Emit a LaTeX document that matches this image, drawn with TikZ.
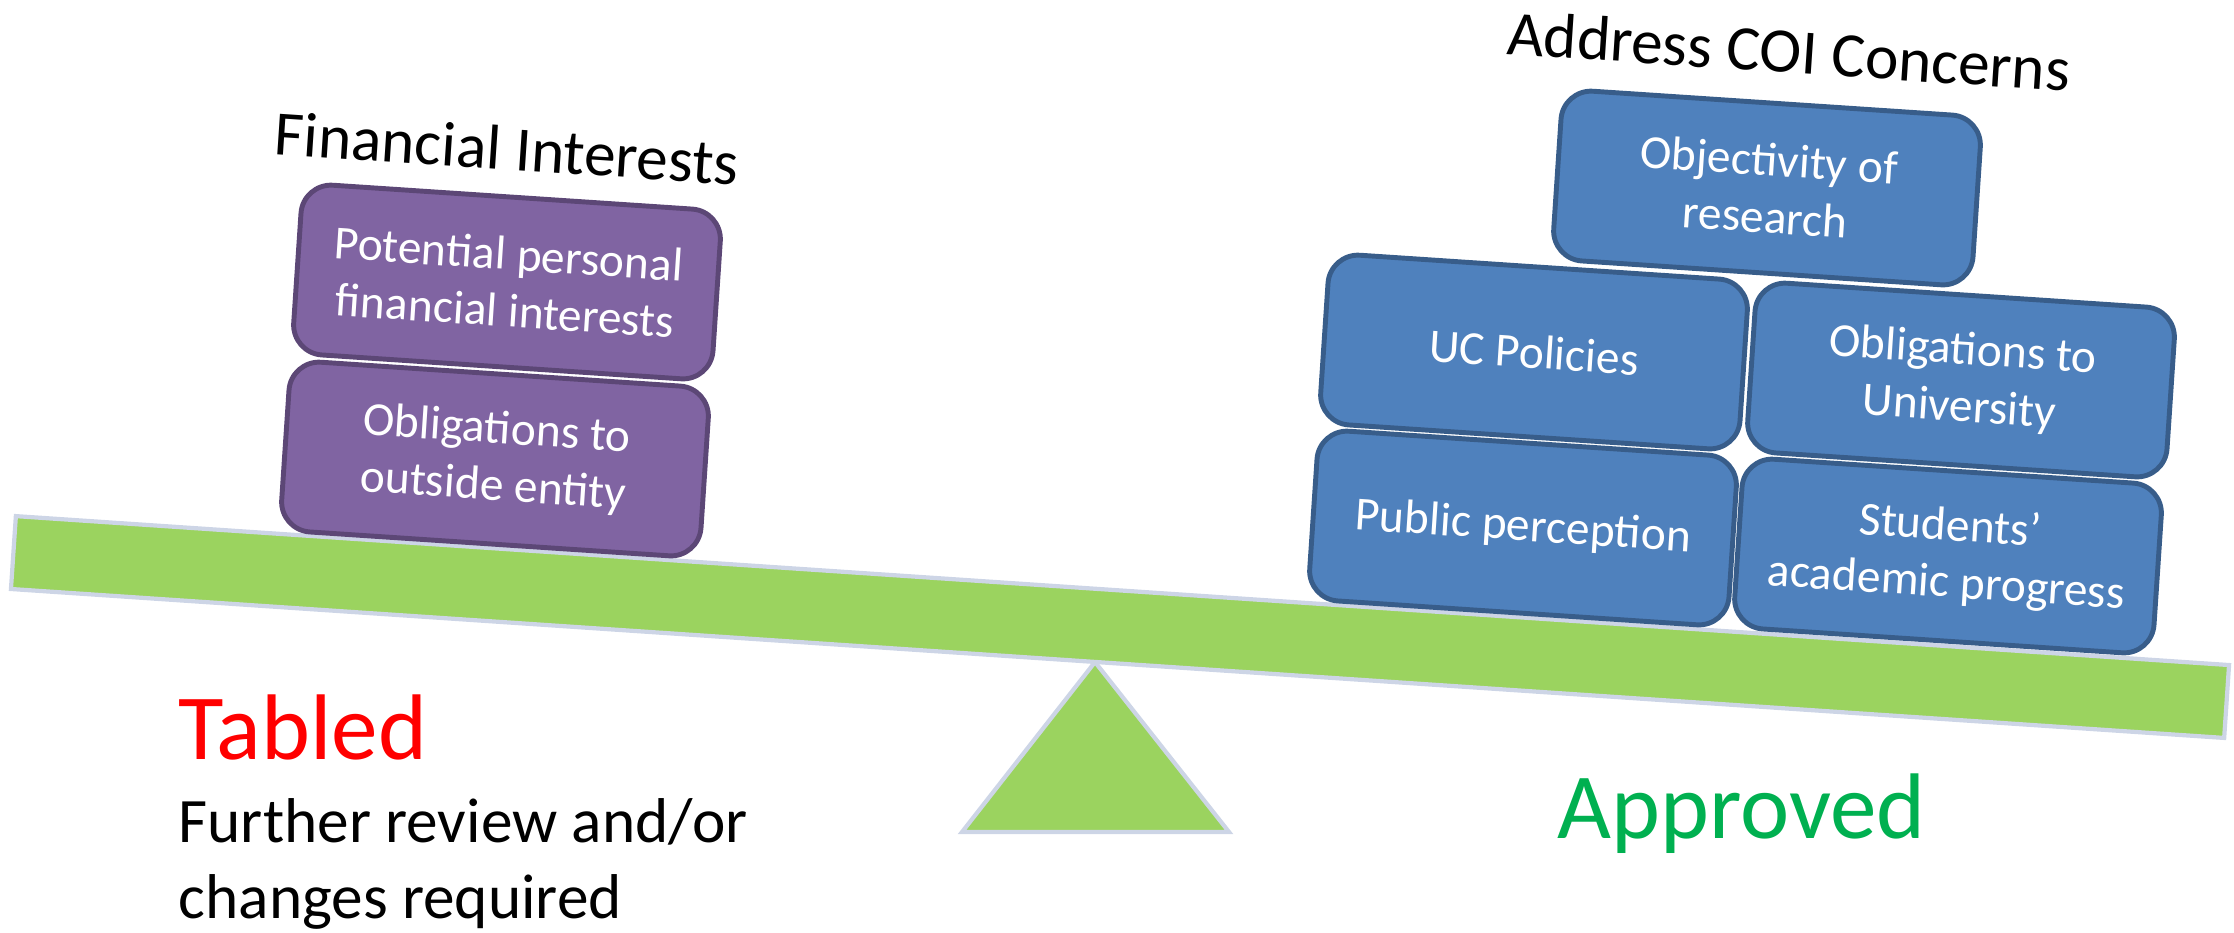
\documentclass[tikz,border=0pt]{standalone}
\usepackage{fontspec}
\setmainfont{Carlito}
\usetikzlibrary{positioning}
\definecolor{boxpurple}{HTML}{8064A2}
\definecolor{edgepurple}{HTML}{5C4776}
\definecolor{boxblue}{HTML}{4F81BD}
\definecolor{edgeblue}{HTML}{385D8A}
\definecolor{beamgreen}{HTML}{9BD35F}
\definecolor{beamedge}{HTML}{CDD5E6}
\definecolor{okgreen}{HTML}{00B050}

\begin{document}
\begin{tikzpicture}[x=0.01cm, y=-0.01cm,
        block/.style={rounded corners=0.3cm, line width=1.4pt, minimum width=4.2cm, minimum height=1.7cm,
            align=center, text=white, rotate=-3.8, font=\fontsize{13.5}{16.2}\selectfont},
        fin/.style={block, fill=boxpurple, draw=edgepurple},
        coi/.style={block, fill=boxblue, draw=edgeblue},
        heading/.style={rotate=-3.8, inner sep=0pt, font=\fontsize{18}{21.6}\selectfont},
        verdict/.style={anchor=base west, inner sep=0pt, font=\fontsize{26.5}{31}\selectfont},
        remark/.style={anchor=base west, inner sep=0pt, align=left, font=\fontsize{18}{21.6}\selectfont}]
        \useasboundingbox (0,0) rectangle (2234,932);

        \coordinate (tip) at (1095,662);
        \draw[draw=beamedge, line width=1.2pt, fill=beamgreen] (tip) -- (1229,832) -- (962,832) -- cycle;
        \node (beam) at (1120,627)[rotate=-3.85, minimum width=22.17cm, minimum height=0.73cm,
            draw=beamedge, line width=1.2pt, fill=beamgreen] {};

        \node (0) at (507,282)[fin] {Potential personal\\financial interests};
        \node (1) at (495,459)[fin] {Obligations to\\outside entity};
        \node (fi) at (507,148)[heading] {Financial Interests};

        \node (2) at (1767,188)[coi] {Objectivity of\\research};
        \node (3) at (1534,352)[coi] {UC Policies};
        \node (4) at (1961,380)[coi] {Obligations to\\University};
        \node (5) at (1523,528)[coi] {Public perception};
        \node (6) at (1948,556)[coi] {Students'\\academic progress};
        \node (coi) at (1789,51)[heading] {Address COI Concerns};

        \node (tabled) at (178,759)[verdict, text=red] {Tabled};
        \node (review) at (178,918)[remark] {Further review and/or\\changes required};
        \node (approved) at (1557,838)[verdict, text=okgreen] {Approved};
    \end{tikzpicture}
\end{document}
